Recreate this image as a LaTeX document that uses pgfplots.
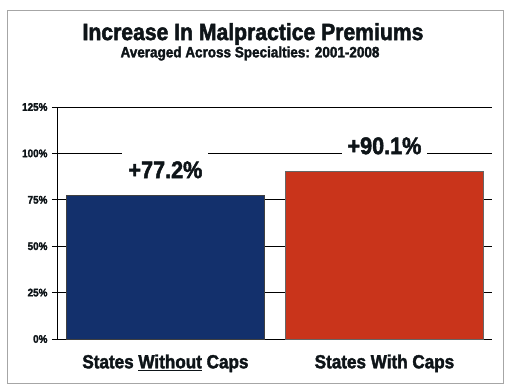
\documentclass[border=0pt]{standalone}
\usepackage{pgfplots}
\pgfplotsset{compat=1.18}
\usepackage{fontspec}
\setmainfont{Liberation Sans}
\newfontfamily\impact{Liberation Sans}[FakeStretch=0.9, BoldFeatures={FakeBold=2}]
\definecolor{barblue}{HTML}{13306C}
\definecolor{barred}{HTML}{C9341B}
\definecolor{inkdark}{HTML}{0E1418}

\begin{document}
\begin{tikzpicture}[x=1pt,y=1pt]
% page area and outer frame
\path[fill=white] (-57,-50) rectangle (450,339);
\draw[gray!70, line width=0.8pt] (-50,-44) rectangle (446,329);

% titles
\node[inkdark, font=\impact\bfseries\fontsize{23.5}{23.5}\selectfont] at (196,305) {Increase In Malpractice Premiums};
\node[inkdark, font=\impact\bfseries\fontsize{15}{15}\selectfont] at (193,285.5) {Averaged Across Specialties: 2001-2008};

\begin{axis}[
  at={(0,0)}, anchor=south west,
  scale only axis, width=435pt, height=232pt,
  xmin=-0.495, xmax=1.491, ymin=0, ymax=125,
  ytick={0,25,50,75,100,125},
  yticklabel={\pgfmathprintnumber{\tick}\%},
  /pgf/number format/assume math mode=true,
  yticklabel style={inkdark, font=\impact\bfseries\fontsize{11}{11}\selectfont, xshift=-1pt},
  xtick={0,1},
  xticklabels={States \underline{Without} Caps, States With Caps},
  xticklabel style={inkdark, font=\impact\bfseries\fontsize{19}{19}\selectfont, yshift=-7pt},
  xtick style={draw=none},
  ytick align=outside, major tick length=5pt,
  ytick style={black, line width=0.9pt},
  axis x line*=bottom, axis y line*=left,
  axis line style={black, line width=0.9pt, -},
  ymajorgrids, grid style={black, line width=0.9pt},
  ybar, bar width=0.904, bar shift=0pt,
  nodes near coords={+\pgfmathprintnumber[fixed, fixed zerofill, precision=1]{\pgfplotspointmeta}\%},
  every node near coord/.append style={inkdark, fill=white, inner xsep=6pt, inner ysep=9pt,
    font=\impact\bfseries\fontsize{24}{24}\selectfont, anchor=south, yshift=8pt},
]
\addplot[fill=barblue, draw=black!75, line width=0.8pt] coordinates {(0,77.2)};
\addplot[fill=barred, draw=black!60, line width=0.8pt] coordinates {(1,90.1)};
\end{axis}
\end{tikzpicture}
\end{document}
